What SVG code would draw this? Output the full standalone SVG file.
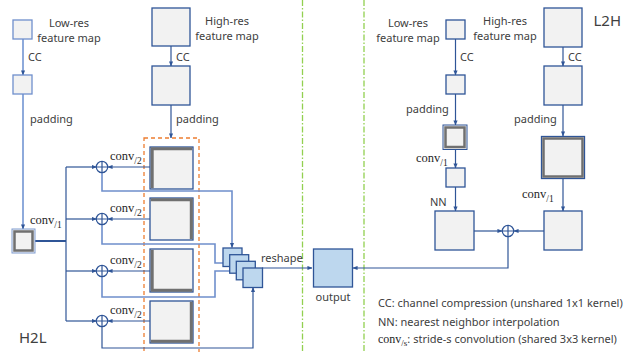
<svg xmlns="http://www.w3.org/2000/svg" width="623" height="352" viewBox="0 0 623 352">
<defs>
<style>
.t{font-family:"Noto Sans","DejaVu Sans",sans-serif;font-size:11px;fill:#404040}
.big{font-family:"Noto Sans","DejaVu Sans",sans-serif;font-size:15px;fill:#404040}
.c{font-family:"Liberation Serif","DejaVu Serif",serif;font-size:12.5px;fill:#262626}
.box{fill:#f2f2f2;stroke:#2f5597;stroke-width:1.3}
.boxl{fill:#f2f2f2;stroke:#6f8fcc;stroke-width:1.3}
.blue{fill:#bdd7ee;stroke:#2f5597;stroke-width:1.3}
.pad{fill:none;stroke:#707070;stroke-width:3}
.ln{fill:none;stroke:#2f5597;stroke-width:1.2}
.lt{fill:none;stroke:#6f8fcc;stroke-width:1.6}
.lw{fill:none;stroke:#8eaadb;stroke-width:2}
.sep{stroke:#92d050;stroke-width:1.3;stroke-dasharray:6 2 1.5 2}
.org{fill:none;stroke:#ed7d31;stroke-width:1.3;stroke-dasharray:4 3}
.circ{fill:#fff;stroke:#2f5597;stroke-width:1.2}
</style>
<marker id="a" viewBox="0 0 6 6" refX="5.5" refY="3" markerWidth="5" markerHeight="5" markerUnits="userSpaceOnUse" orient="auto"><path d="M0,0.5 L6,3 L0,5.5 z" fill="#2f5597"/></marker>
</defs>

<!-- separators -->
<line class="sep" x1="302.5" y1="0" x2="302.5" y2="352"/>
<line class="sep" x1="364" y1="0" x2="364" y2="352"/>

<!-- orange dashed group -->
<rect class="org" x="144" y="138" width="55" height="216"/>

<g id="connectors">
<!-- H2L left column -->
<line class="lw" x1="23" y1="39" x2="23" y2="75" marker-end="url(#a)"/>
<line class="lw" x1="23" y1="94" x2="23" y2="229" marker-end="url(#a)"/>
<line class="ln" x1="171" y1="46" x2="171" y2="66" marker-end="url(#a)"/>
<line class="ln" x1="171" y1="105" x2="171" y2="138" marker-end="url(#a)"/>
<path class="ln" style="stroke-width:2" d="M35,241 H66"/>
<path class="ln" d="M66,167 V321"/>
<line class="ln" x1="66" y1="167" x2="96.5" y2="167" marker-end="url(#a)"/>
<line class="ln" x1="66" y1="219" x2="96.5" y2="219" marker-end="url(#a)"/>
<line class="ln" x1="66" y1="271" x2="96.5" y2="271" marker-end="url(#a)"/>
<line class="ln" x1="66" y1="321" x2="96.5" y2="321" marker-end="url(#a)"/>
<line class="ln" x1="150" y1="167" x2="108" y2="167" marker-end="url(#a)"/>
<line class="ln" x1="150" y1="219" x2="108" y2="219" marker-end="url(#a)"/>
<line class="ln" x1="150" y1="271" x2="108" y2="271" marker-end="url(#a)"/>
<line class="ln" x1="150" y1="321" x2="108" y2="321" marker-end="url(#a)"/>
<path class="lt" d="M102,173 V191 H232 V247.5" marker-end="url(#a)"/>
<path class="lt" d="M102,225 V244 H215 V263 H228" marker-end="url(#a)"/>
<path class="lt" d="M102,277 V297 H215 V271 H234" marker-end="url(#a)"/>
<path class="ln" d="M102,327 V348 H253 V287.5" marker-end="url(#a)"/>
<line class="ln" x1="262" y1="268" x2="312" y2="268" marker-end="url(#a)"/>
<!-- L2H right column -->
<line class="ln" x1="455.5" y1="39" x2="455.5" y2="75" marker-end="url(#a)"/>
<line class="ln" x1="455.5" y1="94" x2="455.5" y2="125" marker-end="url(#a)"/>
<line class="ln" x1="455.5" y1="150" x2="455.5" y2="168" marker-end="url(#a)"/>
<line class="ln" x1="455.5" y1="187" x2="455.5" y2="211" marker-end="url(#a)"/>
<line class="ln" x1="563" y1="47" x2="563" y2="66" marker-end="url(#a)"/>
<line class="ln" x1="563" y1="105" x2="563" y2="136" marker-end="url(#a)"/>
<line class="ln" x1="563" y1="179" x2="563" y2="211" marker-end="url(#a)"/>
<line class="ln" x1="474" y1="231" x2="502" y2="231" marker-end="url(#a)"/>
<line class="ln" x1="544" y1="231" x2="514" y2="231" marker-end="url(#a)"/>
<path class="ln" d="M508,237 V268 H353" marker-end="url(#a)"/>
</g>

<!-- H2L nodes -->
<g id="lowres-h2l"><rect class="boxl" x="13" y="20" width="19" height="19"/><text class="t" x="69" y="27" text-anchor="middle">Low-res</text><text class="t" x="69" y="42" text-anchor="middle">feature map</text></g>
<g id="lowcc-h2l"><rect class="boxl" x="13" y="75" width="19" height="19"/><text class="t" x="28" y="61">CC</text></g>
<g id="lowpad-h2l"><text class="t" x="30" y="123">padding</text>
<rect x="12" y="229" width="23" height="24" fill="#f2f2f2" stroke="#7f9bd0" stroke-width="1"/><rect class="pad" x="14.5" y="231.5" width="18" height="19" style="stroke-width:2.5"/>
<text class="c" x="30" y="224">conv<tspan font-size="9.5" dy="3.5">/1</tspan></text></g>
<g id="highres-h2l"><rect class="box" x="152" y="8" width="38" height="38"/><text class="t" x="227" y="25" text-anchor="middle">High-res</text><text class="t" x="227" y="40" text-anchor="middle">feature map</text></g>
<g id="highcc-h2l"><rect class="box" x="152" y="66" width="38" height="39"/><text class="t" x="176" y="61">CC</text><text class="t" x="176" y="123">padding</text></g>

<g id="sub1"><rect class="box" x="150" y="147" width="43" height="42"/><path class="pad" d="M152.2,188.3 V148.7 H192.3"/></g>
<g id="sub2"><rect class="box" x="150" y="198" width="43" height="42"/><path class="pad" d="M150.7,199.7 H191.3 V239.3"/></g>
<g id="sub3"><rect class="box" x="150" y="249" width="43" height="43"/><path class="pad" d="M152.2,249.7 V290.3 H192.3"/></g>
<g id="sub4"><rect class="box" x="150" y="301" width="43" height="42"/><path class="pad" d="M191.3,301.7 V341.3 H150.7"/></g>

<g id="add1"><circle class="circ" cx="102" cy="167" r="5.7"/><path class="ln" d="M96.3,167 H107.7 M102,161.3 V172.7"/><text class="c" x="110" y="160">conv<tspan font-size="9.5" dy="3.5">/2</tspan></text></g>
<g id="add2"><circle class="circ" cx="102" cy="219" r="5.7"/><path class="ln" d="M96.3,219 H107.7 M102,213.3 V224.7"/><text class="c" x="110" y="212">conv<tspan font-size="9.5" dy="3.5">/2</tspan></text></g>
<g id="add3"><circle class="circ" cx="102" cy="271" r="5.7"/><path class="ln" d="M96.3,271 H107.7 M102,265.3 V276.7"/><text class="c" x="110" y="264">conv<tspan font-size="9.5" dy="3.5">/2</tspan></text></g>
<g id="add4"><circle class="circ" cx="102" cy="321" r="5.7"/><path class="ln" d="M96.3,321 H107.7 M102,315.3 V326.7"/><text class="c" x="110" y="314">conv<tspan font-size="9.5" dy="3.5">/2</tspan></text></g>

<g id="stack">
<rect class="blue" x="223" y="248" width="19" height="18.5"/>
<rect class="blue" x="229.7" y="254.7" width="19" height="18.5"/>
<rect class="blue" x="236.3" y="261.3" width="19" height="18.5"/>
<rect class="blue" x="243" y="268" width="19.5" height="19.5"/>
<text class="t" x="261" y="262">reshape</text>
</g>
<g id="output"><rect class="blue" x="313.5" y="249" width="39" height="38"/><text class="t" x="333" y="301" text-anchor="middle">output</text></g>
<text class="big" x="19" y="343">H2L</text>

<!-- L2H nodes -->
<g id="lowres-l2h"><rect class="box" x="446" y="20" width="19" height="19"/><text class="t" x="408" y="27" text-anchor="middle">Low-res</text><text class="t" x="408" y="42" text-anchor="middle">feature map</text></g>
<g id="lowcc-l2h"><rect class="box" x="446" y="75" width="19" height="19"/><text class="t" x="460" y="61">CC</text><text class="t" x="406" y="113">padding</text></g>
<g id="lowpad-l2h"><rect x="443" y="125" width="24" height="24.5" fill="#f2f2f2" stroke="#2f5597" stroke-width="1"/><rect class="pad" x="445.5" y="127.5" width="19" height="19.5" style="stroke-width:2.5"/><text class="c" x="416" y="162">conv<tspan font-size="9.5" dy="3.5">/1</tspan></text></g>
<g id="lowconv-l2h"><rect class="box" x="446" y="168" width="19" height="19"/><text class="t" x="430" y="206">NN</text></g>
<g id="nn-l2h"><rect class="box" x="435" y="211" width="39" height="39"/></g>
<g id="add-l2h"><circle class="circ" cx="508" cy="231" r="5.7"/><path class="ln" d="M502.3,231 H513.7 M508,225.3 V236.7"/></g>
<g id="highres-l2h"><rect class="box" x="544" y="8" width="38" height="39"/><text class="t" x="505" y="25" text-anchor="middle">High-res</text><text class="t" x="505" y="40" text-anchor="middle">feature map</text></g>
<g id="highcc-l2h"><rect class="box" x="544" y="66" width="38" height="39"/><text class="t" x="568" y="61">CC</text><text class="t" x="514" y="123">padding</text></g>
<g id="highpad-l2h"><rect x="541.5" y="136.5" width="43" height="42" fill="#f2f2f2" stroke="#2f5597" stroke-width="1.3"/><rect class="pad" x="543.5" y="138.5" width="39" height="38" style="stroke-width:2.5"/><text class="c" x="522" y="198">conv<tspan font-size="9.5" dy="3.5">/1</tspan></text></g>
<g id="highconv-l2h"><rect class="box" x="544" y="211" width="38" height="39"/></g>
<text class="big" x="621" y="26" text-anchor="end">L2H</text>

<g id="legend">
<text class="t" x="378" y="307">CC: channel compression (unshared 1x1 kernel)</text>
<text class="t" x="378" y="326">NN: nearest neighbor interpolation</text>
<text class="t" x="378" y="343"><tspan class="c" style="font-size:12px">conv<tspan font-size="9" dy="3">/s</tspan></tspan><tspan dy="-3">: stride-s convolution (shared 3x3 kernel)</tspan></text>
</g>
</svg>
